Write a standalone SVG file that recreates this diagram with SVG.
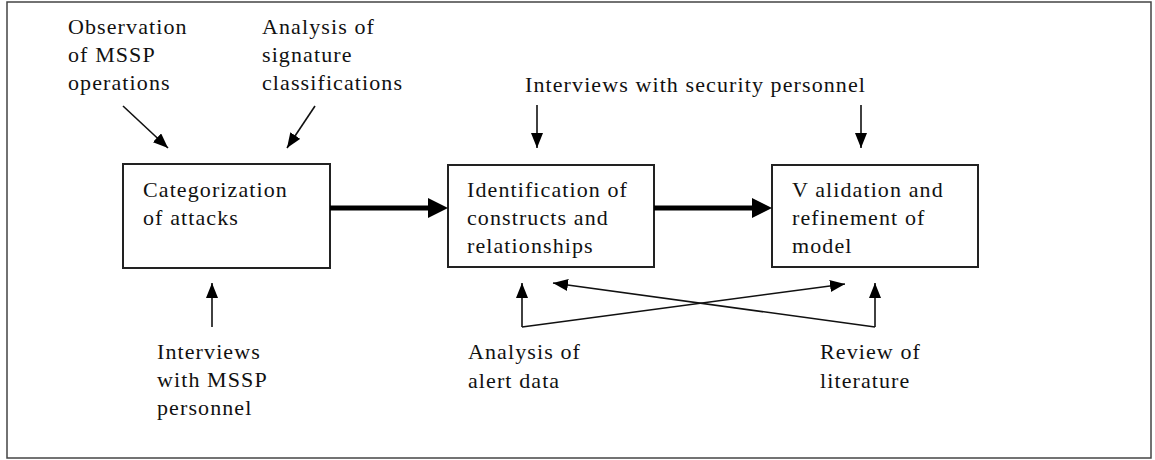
<svg xmlns="http://www.w3.org/2000/svg" width="1155" height="460" viewBox="0 0 1155 460">
  <style>
    text { font-family: 'Liberation Serif', 'Times New Roman', serif; font-size: 22px; letter-spacing: 1.1px; fill: #111; }
    .box { fill: #fff; stroke: #222; stroke-width: 2; }
    .thin { stroke: #111; stroke-width: 1.6; fill: none; }
    .thick { stroke: #000; stroke-width: 5; fill: none; }
  </style>
  <defs>
    <marker id="ah" markerUnits="userSpaceOnUse" markerWidth="15" markerHeight="12" refX="15" refY="6" orient="auto">
      <path d="M0,0 L15,6 L0,12 z" fill="#000"/>
    </marker>
    <marker id="ahBig" markerUnits="userSpaceOnUse" markerWidth="20" markerHeight="20" refX="0" refY="10" orient="auto">
      <path d="M0,0 L20,10 L0,20 z" fill="#000"/>
    </marker>
  </defs>
  <rect x="0" y="0" width="1155" height="460" fill="#fff"/>
  <rect x="7" y="2" width="1144" height="456" fill="none" stroke="#444" stroke-width="1.5"/>

  <g font-family="Liberation Serif, Times New Roman, serif">
  <g id="node-categorization">
    <rect class="box" x="123" y="164" width="207" height="104"/>
    <text x="143" y="197">Categorization</text>
    <text x="143" y="225">of attacks</text>
  </g>
  <g id="node-identification">
    <rect class="box" x="448" y="165" width="206" height="102"/>
    <text x="467" y="197">Identification of</text>
    <text x="467" y="225">constructs and</text>
    <text x="467" y="253">relationships</text>
  </g>
  <g id="node-validation">
    <rect class="box" x="772" y="165" width="206" height="102"/>
    <text x="792" y="197">V alidation and</text>
    <text x="792" y="225">refinement of</text>
    <text x="792" y="253">model</text>
  </g>

  <g id="src-observation">
    <text x="68" y="34">Observation</text>
    <text x="68" y="62">of MSSP</text>
    <text x="68" y="90">operations</text>
  </g>
  <g id="src-signature">
    <text x="262" y="34">Analysis of</text>
    <text x="262" y="62">signature</text>
    <text x="262" y="90">classifications</text>
  </g>
  <g id="src-security">
    <text x="525" y="92">Interviews with security personnel</text>
  </g>
  <g id="src-mssp-personnel">
    <text x="157" y="359">Interviews</text>
    <text x="157" y="387">with MSSP</text>
    <text x="157" y="415">personnel</text>
  </g>
  <g id="src-alert">
    <text x="468" y="359">Analysis of</text>
    <text x="468" y="388">alert data</text>
  </g>
  <g id="src-literature">
    <text x="820" y="359">Review of</text>
    <text x="820" y="388">literature</text>
  </g>
  </g>

  <g id="connectors">
    <line class="thick" x1="330" y1="208" x2="428" y2="208" marker-end="url(#ahBig)"/>
    <line class="thick" x1="654" y1="208" x2="752" y2="208" marker-end="url(#ahBig)"/>
    <line class="thin" x1="123" y1="106" x2="168" y2="148" marker-end="url(#ah)"/>
    <line class="thin" x1="315" y1="106" x2="287" y2="148" marker-end="url(#ah)"/>
    <line class="thin" x1="537" y1="105" x2="537" y2="148" marker-end="url(#ah)"/>
    <line class="thin" x1="861" y1="105" x2="861" y2="148" marker-end="url(#ah)"/>
    <line class="thin" x1="212" y1="327" x2="212" y2="283" marker-end="url(#ah)"/>
    <line class="thin" x1="522" y1="327" x2="522" y2="283" marker-end="url(#ah)"/>
    <line class="thin" x1="522" y1="327" x2="845" y2="284" marker-end="url(#ah)"/>
    <line class="thin" x1="875" y1="327" x2="875" y2="283" marker-end="url(#ah)"/>
    <line class="thin" x1="875" y1="327" x2="553" y2="283" marker-end="url(#ah)"/>
  </g>
</svg>
